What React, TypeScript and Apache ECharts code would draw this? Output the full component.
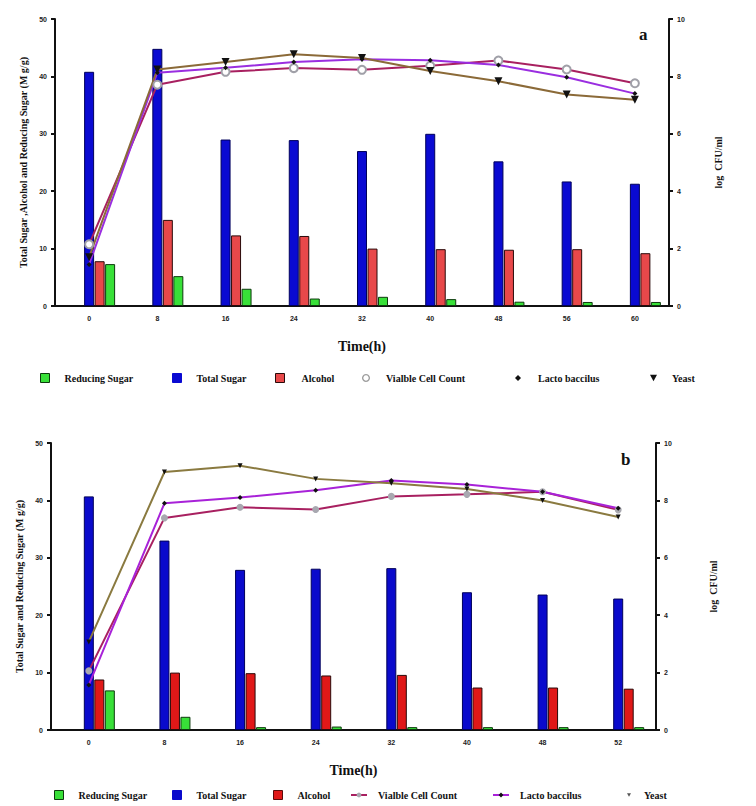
import React, { useEffect, useRef } from 'react';
import * as echarts from 'echarts';

// ---------- Data: chart a ----------
const topTimes = ['0', '8', '16', '24', '32', '40', '48', '56', '60'];
const topTotalSugar = [40.8, 44.8, 29.0, 28.9, 27.0, 30.0, 25.2, 21.7, 21.3];
const topAlcohol = [7.8, 15.0, 12.3, 12.2, 10.0, 9.9, 9.8, 9.9, 9.2];
const topReducingSugar = [7.3, 5.2, 3.0, 1.3, 1.6, 1.2, 0.75, 0.7, 0.7];
const topViable = [2.15, 7.71, 8.16, 8.29, 8.23, 8.37, 8.55, 8.24, 7.76];
const topLacto = [1.45, 8.13, 8.3, 8.5, 8.6, 8.56, 8.4, 7.97, 7.4];
const topYeast = [1.7, 8.24, 8.5, 8.77, 8.64, 8.19, 7.83, 7.37, 7.19];

// ---------- Data: chart b ----------
const bottomTimes = ['0', '8', '16', '24', '32', '40', '48', '52'];
const bottomTotalSugar = [40.7, 33.0, 27.9, 28.1, 28.2, 24.0, 23.6, 22.9];
const bottomAlcohol = [8.8, 10.0, 9.9, 9.5, 9.6, 7.4, 7.4, 7.2];
const bottomReducingSugar = [6.9, 2.3, 0.5, 0.6, 0.5, 0.5, 0.5, 0.5];
const bottomViable = [2.06, 7.39, 7.76, 7.68, 8.14, 8.21, 8.3, 7.67];
const bottomLacto = [1.57, 7.9, 8.1, 8.35, 8.69, 8.55, 8.3, 7.73];
const bottomYeast = [3.07, 8.99, 9.21, 8.75, 8.6, 8.4, 8.0, 7.42];

const leftTicks = [0, 10, 20, 30, 40, 50];
const rightTicks = [0, 2, 4, 6, 8, 10];

const serif = '"Liberation Serif", "DejaVu Serif", serif';
const sans = 'Arial, "Liberation Sans", sans-serif';

const triDown = 'path://M0,0 L10,0 L5,9 Z';
const ring = 'path://M5,0 A5,5 0 1 1 4.99,0 Z M5,1.6 A3.4,3.4 0 1 0 5.01,1.6 Z';

function legendItem(name: string, left: number, top: number, extra: any = {}) {
  return {
    data: [{ name, ...(extra.dataExtra || {}) }],
    left,
    top,
    itemWidth: extra.w ?? 9,
    itemHeight: extra.h ?? 9,
    selectedMode: false,
    textStyle: {
      fontFamily: serif,
      fontWeight: 'bold',
      fontSize: 10,
      color: '#111',
      padding: [0, 0, 0, extra.pad ?? 8],
    },
  };
}

function buildOption(cfg: any) {
  const g = cfg.grid;
  const bar = (name: string, data: number[], color: string, border: string) => ({
    name,
    type: 'bar',
    data,
    barWidth: 10,
    barGap: '5%',
    itemStyle: { color, borderColor: border, borderWidth: 1 },
    z: 2,
  });
  const line = (name: string, data: number[], color: string, symbol: string, size: number, itemStyle: any, rotate = 0) => ({
    name,
    type: 'line',
    yAxisIndex: 1,
    data,
    symbol,
    symbolSize: size,
    symbolRotate: rotate,
    lineStyle: { color, width: 2 },
    itemStyle,
    z: 5,
  });
  return {
    animation: false,
    backgroundColor: '#fff',
    grid: { left: g.left, top: g.top, width: g.width, height: g.height },
    xAxis: {
      type: 'category',
      data: cfg.times,
      boundaryGap: true,
      name: 'Time(h)',
      nameLocation: 'middle',
      nameGap: cfg.xNameGap,
      nameTextStyle: { fontFamily: serif, fontWeight: 'bold', fontSize: 14, color: '#111' },
      axisLine: { lineStyle: { color: '#111', width: 2 } },
      axisTick: { show: false },
      axisLabel: { fontFamily: sans, fontWeight: 'bold', fontSize: 7, color: '#222', margin: 9 },
    },
    yAxis: [
      {
        type: 'value',
        min: 0,
        max: 50,
        interval: 10,
        name: cfg.leftName,
        nameLocation: 'middle',
        nameRotate: 90,
        nameGap: cfg.leftNameGap,
        nameTextStyle: { fontFamily: serif, fontWeight: 'bold', fontSize: 10, color: '#111' },
        axisLine: { show: true, lineStyle: { color: '#111', width: 2 } },
        axisTick: { show: true, length: 4, lineStyle: { color: '#111', width: 2 } },
        axisLabel: {
          fontFamily: sans, fontWeight: 'bold', fontSize: 7, color: '#222', margin: 8,
          formatter: (v: number) => (leftTicks.includes(v) ? String(v) : ''),
        },
        splitLine: { show: false },
      },
      {
        type: 'value',
        min: 0,
        max: 10,
        interval: 2,
        position: 'right',
        name: 'log  CFU/ml',
        nameLocation: 'middle',
        nameRotate: 90,
        nameGap: cfg.rightNameGap,
        nameTextStyle: { fontFamily: serif, fontWeight: 'bold', fontSize: 10, color: '#111' },
        axisLine: { show: true, lineStyle: { color: '#111', width: 2 } },
        axisTick: { show: true, length: 4, lineStyle: { color: '#111', width: 2 } },
        axisLabel: {
          fontFamily: sans, fontWeight: 'bold', fontSize: 7, color: '#222', margin: 8,
          formatter: (v: number) => (rightTicks.includes(v) ? String(v) : ''),
        },
        splitLine: { show: false },
      },
    ],
    legend: cfg.legend,
    graphic: [
      {
        type: 'text',
        left: cfg.tag.x,
        top: cfg.tag.y,
        style: { text: cfg.tag.text, font: `bold 17px ${serif}`, fill: '#111' },
      },
    ],
    series: [
      { name: '_pad1', type: 'bar', data: [], barWidth: 10, barGap: '5%' },
      { name: '_pad2', type: 'bar', data: [], barWidth: 10, barGap: '5%' },
      bar('Total Sugar', cfg.total, cfg.blue, cfg.blueBorder),
      bar('Alcohol', cfg.alcohol, cfg.red, '#2a0a0a'),
      bar('Reducing Sugar', cfg.reducing, cfg.green, '#0d3a0d'),
      line('Vialble Cell Count', cfg.viable, cfg.viableColor, cfg.viableSymbol, cfg.viableSize, cfg.viableStyle),
      line('Lacto baccilus', cfg.lacto, cfg.lactoColor, 'diamond', 5, { color: '#111' }),
      line('Yeast', cfg.yeast, cfg.yeastColor, 'triangle', cfg.yeastSize, { color: '#111' }, 180),
    ],
  };
}

const rectIcon = (color: string, border: string) => ({
  icon: 'rect',
  itemStyle: { color, borderColor: border, borderWidth: 1 },
});

const topOption = buildOption({
  grid: { left: 55, top: 19, width: 614, height: 287 },
  times: topTimes,
  total: topTotalSugar,
  alcohol: topAlcohol,
  reducing: topReducingSugar,
  viable: topViable,
  lacto: topLacto,
  yeast: topYeast,
  blue: '#0a0ad2',
  blueBorder: '#00005a',
  red: '#e8484a',
  green: '#38e038',
  viableColor: '#a82060',
  viableSymbol: 'emptyCircle',
  viableSize: 8,
  viableStyle: { color: '#a0a0a8', borderColor: '#a0a0b0', borderWidth: 1.2 },
  lactoColor: '#9a2ee0',
  yeastColor: '#8b6a38',
  yeastSize: 8,
  leftName: 'Total Sugar ,Alcohol and Reducing Sugar (M g/g)',
  leftNameGap: 25,
  rightNameGap: 44,
  xNameGap: 33,
  tag: { text: 'a', x: 639, y: 26 },
  legend: [
    legendItem('Reducing Sugar', 35, 368, { pad: 10, dataExtra: rectIcon('#38e038', '#0d3a0d') }),
    legendItem('Total Sugar', 167, 368, { pad: 10, dataExtra: rectIcon('#0a0ad2', '#0a0ad2') }),
    legendItem('Alcohol', 270, 368, { pad: 12, dataExtra: rectIcon('#e8484a', '#2a0a0a') }),
    legendItem('Vialble Cell Count', 357, 368, { w: 8, h: 8, pad: 11, dataExtra: { icon: ring, itemStyle: { color: '#999', borderWidth: 0 } } }),
    legendItem('Lacto baccilus', 510, 368, { w: 6, h: 6, pad: 12, dataExtra: { icon: 'diamond', itemStyle: { color: '#111' } } }),
    legendItem('Yeast', 645, 368, { w: 7, h: 7, pad: 10, dataExtra: { icon: triDown, itemStyle: { color: '#111' } } }),
  ],
});

const bottomOption = buildOption({
  grid: { left: 51, top: 40, width: 605, height: 287 },
  times: bottomTimes,
  total: bottomTotalSugar,
  alcohol: bottomAlcohol,
  reducing: bottomReducingSugar,
  viable: bottomViable,
  lacto: bottomLacto,
  yeast: bottomYeast,
  blue: '#0a0acc',
  blueBorder: '#00005a',
  red: '#e01818',
  green: '#38e038',
  viableColor: '#a82060',
  viableSymbol: 'circle',
  viableSize: 7,
  viableStyle: { color: '#a8a8b0' },
  lactoColor: '#a822d8',
  yeastColor: '#8a7a40',
  yeastSize: 5,
  leftName: 'Total Sugar and Reducing Sugar (M g/g)',
  leftNameGap: 27,
  rightNameGap: 52,
  xNameGap: 33,
  tag: { text: 'b', x: 621, y: 48 },
  legend: [
    legendItem('Reducing Sugar', 49, 382, { pad: 10, dataExtra: rectIcon('#38e038', '#0d3a0d') }),
    legendItem('Total Sugar', 167, 382, { pad: 10, dataExtra: rectIcon('#0a0acc', '#0a0acc') }),
    legendItem('Alcohol', 268, 382, { pad: 10, dataExtra: rectIcon('#e01818', '#5a0a0a') }),
    legendItem('Vialble Cell Count', 345, 382, { w: 16, h: 6, pad: 6 }),
    legendItem('Lacto baccilus', 487, 382, { w: 16, h: 6, pad: 6 }),
    legendItem('Yeast', 622, 382, { w: 4, h: 4, pad: 8, dataExtra: { icon: triDown, itemStyle: { color: '#555' } } }),
  ],
});

function Chart({ option, top }: { option: any; top: number }) {
  const ref = useRef<HTMLDivElement>(null);
  useEffect(() => {
    const chart = echarts.init(ref.current as HTMLDivElement, null, { renderer: 'svg' });
    chart.setOption(option);
    return () => chart.dispose();
  }, [option]);
  return (
    <div
      ref={ref}
      style={{ position: 'absolute', left: 0, top, width: 756, height: 403 }}
    />
  );
}

export default function App() {
  return (
    <div style={{ position: 'absolute', left: 0, top: 0, width: 756, height: 806, background: '#fff' }}>
      <Chart option={topOption} top={0} />
      <Chart option={bottomOption} top={403} />
    </div>
  );
}
